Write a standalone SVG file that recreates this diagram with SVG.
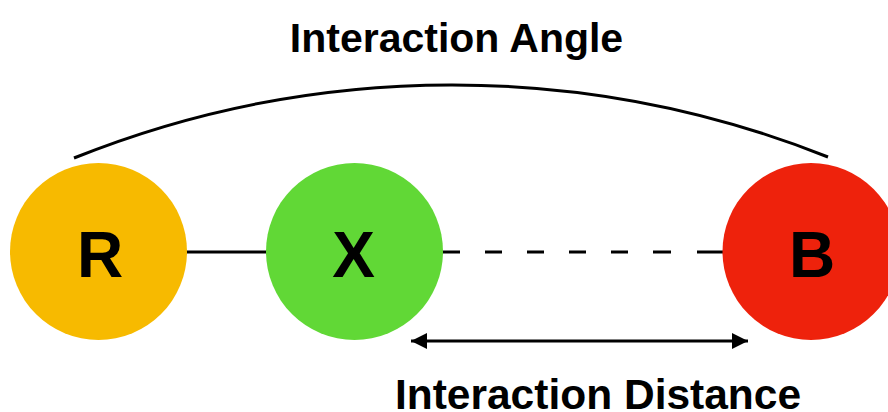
<svg xmlns="http://www.w3.org/2000/svg" width="888" height="412" viewBox="0 0 888 412">
<style>
.lbl{font-family:"Liberation Sans",Arial,sans-serif;font-weight:bold;fill:#000;text-anchor:middle}
.node{font-family:"Liberation Sans",Arial,sans-serif;font-weight:bold;font-size:64px;fill:#000;text-anchor:middle}
.ln{stroke:#000;stroke-width:3;fill:none}
</style>
<defs>
<marker id="ah" viewBox="0 0 16 16" refX="16" refY="8" markerWidth="16" markerHeight="16" markerUnits="userSpaceOnUse" orient="auto-start-reverse">
<path d="M0,0 L16,8 L0,16 Z" fill="#000"/>
</marker>
</defs>
<rect width="888" height="412" fill="#fff"/>
<g id="connectors">
<path class="ln" d="M74,158 A1016,1016 0 0 1 828,157"/>
<line class="ln" x1="182" y1="252" x2="271" y2="252"/>
<path class="ln" d="M437,252 H460 M485,252 H502 M527,252 H544 M569,252 H586 M611,252 H628 M653,252 H671 M697,252 H728"/>
<line class="ln" x1="411" y1="341" x2="748" y2="341" marker-start="url(#ah)" marker-end="url(#ah)"/>
</g>
<g id="node-R">
<circle cx="98.5" cy="251.5" r="88.5" fill="#F7BA00"/>
<text class="node" x="100" y="277">R</text>
</g>
<g id="node-X">
<circle cx="354.5" cy="251.5" r="88.5" fill="#61D836"/>
<text class="node" x="353.5" y="277">X</text>
</g>
<g id="node-B">
<circle cx="811" cy="251.5" r="88.5" fill="#EE220C"/>
<text class="node" x="812" y="277">B</text>
</g>
<text class="lbl" x="456.5" y="52" font-size="41">Interaction Angle</text>
<text class="lbl" x="598" y="409" font-size="42.5">Interaction Distance</text>
</svg>
